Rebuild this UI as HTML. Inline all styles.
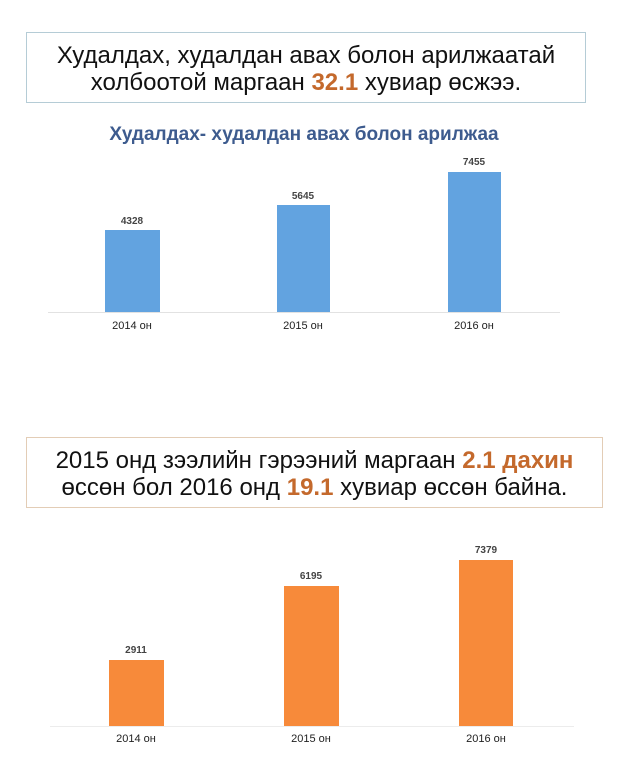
<!DOCTYPE html>
<html><head><meta charset="utf-8"><style>
body{margin:0;width:630px;height:784px;background:#fff;position:relative;font-family:"Liberation Sans",sans-serif;overflow:hidden}
.a{position:absolute}
.box{position:absolute;box-sizing:border-box;text-align:center;color:#111;font-size:24px;line-height:27px}
.hl{color:#c4692c;font-weight:bold}
.bar{position:absolute}
.lb{position:absolute;font-size:10px;font-weight:bold;color:#444;width:60px;text-align:center}
.xl{position:absolute;font-size:11px;color:#222;width:80px;text-align:center}
</style></head><body>
<div class="box" style="left:26px;top:32px;width:560px;height:71px;border:1px solid #b5ccd6;padding-top:9px">Худалдах, худалдан авах болон арилжаатай<br>холбоотой маргаан <span class="hl">32.1</span> хувиар өсжээ.</div>
<div class="a" style="left:0;width:608px;top:124px;text-align:center;font-size:19px;font-weight:bold;color:#3d5b8e">Худалдах- худалдан авах болон арилжаа</div>

<div class="a" style="left:48px;top:312px;width:512px;height:1px;background:#e2e2e2"></div>
<div class="bar" style="left:105px;top:230px;width:55px;height:82px;background:#62a3e0"></div>
<div class="bar" style="left:277px;top:205px;width:53px;height:107px;background:#62a3e0"></div>
<div class="bar" style="left:448px;top:172px;width:53px;height:140px;background:#62a3e0"></div>
<div class="lb" style="left:102px;top:216px">4328</div>
<div class="lb" style="left:273px;top:191px">5645</div>
<div class="lb" style="left:444px;top:157px">7455</div>
<div class="xl" style="left:92px;top:320px">2014 он</div>
<div class="xl" style="left:263px;top:320px">2015 он</div>
<div class="xl" style="left:434px;top:320px">2016 он</div>

<div class="box" style="left:26px;top:437px;width:577px;height:71px;border:1px solid #e3cdb6;padding-top:9px">2015 онд зээлийн гэрээний маргаан <span class="hl">2.1 дахин</span><br>өссөн бол 2016 онд <span class="hl">19.1</span> хувиар өссөн байна.</div>

<div class="a" style="left:50px;top:726px;width:524px;height:1px;background:#ececec"></div>
<div class="bar" style="left:109px;top:660px;width:55px;height:66px;background:#f78a3a"></div>
<div class="bar" style="left:284px;top:586px;width:55px;height:140px;background:#f78a3a"></div>
<div class="bar" style="left:459px;top:560px;width:54px;height:166px;background:#f78a3a"></div>
<div class="lb" style="left:106px;top:645px">2911</div>
<div class="lb" style="left:281px;top:571px">6195</div>
<div class="lb" style="left:456px;top:545px">7379</div>
<div class="xl" style="left:96px;top:733px">2014 он</div>
<div class="xl" style="left:271px;top:733px">2015 он</div>
<div class="xl" style="left:446px;top:733px">2016 он</div>
</body></html>
